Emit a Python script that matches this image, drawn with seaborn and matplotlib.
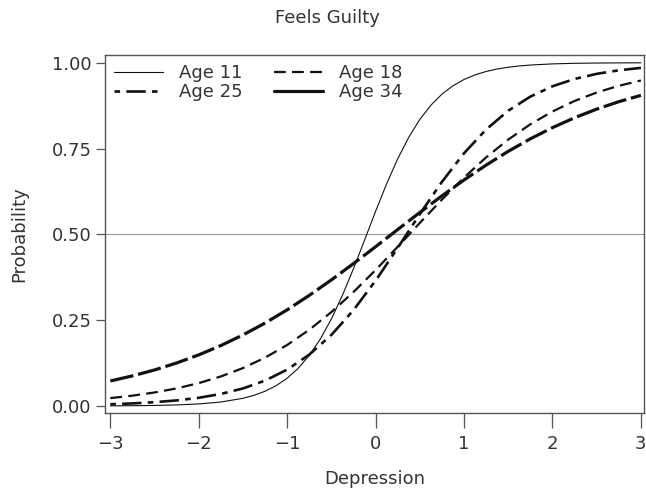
import numpy as np
import pandas as pd
import matplotlib
matplotlib.use("Agg")
import matplotlib.pyplot as plt
import seaborn as sns

# Depression score grid (standardised)
depression = [-3.0, -2.75, -2.5, -2.25, -2.0, -1.75, -1.5, -1.25, -1.0, -0.75,
              -0.5, -0.25, 0.0, 0.25, 0.5, 0.75, 1.0, 1.25, 1.5, 1.75,
              2.0, 2.25, 2.5, 2.75, 3.0]

# Finer grid for the steep age-11 curve
depression_11 = [-3.0, -2.75, -2.5, -2.25, -2.0, -1.75, -1.5, -1.375, -1.25, -1.125,
                 -1.0, -0.875, -0.75, -0.625, -0.5, -0.375, -0.25, -0.125, 0.0, 0.125,
                 0.25, 0.375, 0.5, 0.625, 0.75, 0.875, 1.0, 1.125, 1.25, 1.375,
                 1.5, 1.625, 1.75, 2.0, 2.25, 2.5, 2.75, 3.0]

# Predicted probability of endorsing "Feels Guilty" at each age
age_11 = [0.0004, 0.0008, 0.0015, 0.0030, 0.0059, 0.0115, 0.0223, 0.0310, 0.0429, 0.0591,
          0.0809, 0.1098, 0.1474, 0.1950, 0.2535, 0.3225, 0.4001, 0.4831, 0.5671, 0.6474,
          0.7201, 0.7829, 0.8348, 0.8762, 0.9084, 0.9329, 0.9512, 0.9647, 0.9745, 0.9817,
          0.9869, 0.9906, 0.9933, 0.9966, 0.9983, 0.9991, 0.9995, 0.9998]
age_18 = [0.0229, 0.0300, 0.0393, 0.0512, 0.0665, 0.0860, 0.1104, 0.1408, 0.1777, 0.2220,
          0.2735, 0.3320, 0.3960, 0.4640, 0.5332, 0.6013, 0.6655, 0.7243, 0.7761, 0.8207,
          0.8579, 0.8886, 0.9132, 0.9328, 0.9482]
age_25 = [0.0050, 0.0074, 0.0110, 0.0162, 0.0238, 0.0350, 0.0510, 0.0739, 0.1059, 0.1496,
          0.2070, 0.2793, 0.3652, 0.4606, 0.5590, 0.6529, 0.7363, 0.8057, 0.8602, 0.9013,
          0.9313, 0.9527, 0.9676, 0.9779, 0.9850]
age_34 = [0.0728, 0.0876, 0.1049, 0.1252, 0.1488, 0.1760, 0.2069, 0.2416, 0.2801, 0.3222,
          0.3673, 0.4148, 0.4640, 0.5140, 0.5637, 0.6121, 0.6584, 0.7018, 0.7419, 0.7783,
          0.8109, 0.8397, 0.8648, 0.8865, 0.9048]

x_ticks = [-3, -2, -1, 0, 1, 2, 3]
y_ticks = [0.0, 0.25, 0.5, 0.75, 1.0]

sns.set_theme(style="white")
plt.rcParams["font.family"] = ["DejaVu Sans"]
plt.rcParams["lines.scale_dashes"] = False
text_color = "#333333"
fs = 13

fig = plt.figure(figsize=(6.46, 4.92), dpi=100)
ax = fig.add_axes([105 / 646, 1 - 413 / 492, 539 / 646, 358 / 492])

# reference line at p = 0.5
ax.axhline(0.5, color="#9a9a9a", lw=0.8, zorder=1)

series = [
    ("Age 11", depression_11, age_11, dict(lw=0.8, linestyle="-")),
    ("Age 18", depression, age_18, dict(lw=1.6, linestyle=(0, (8.5, 4.5)))),
    ("Age 25", depression, age_25, dict(lw=1.9, linestyle=(18.5, (14, 4.5, 4.0, 4.5)))),
    ("Age 34", depression, age_34, dict(lw=2.3, linestyle=(0, (17, 3.5)))),
]
lines = {}
for name, xs, vals, style in series:
    df = pd.DataFrame({"Depression": xs, "Probability": vals})
    sns.lineplot(data=df, x="Depression", y="Probability", ax=ax, color="#111111",
                 errorbar=None, label=name, zorder=3, **style)
    lines[name] = ax.get_lines()[-1]

ax.set_xlim(-3.06, 3.035)
ax.set_ylim(-0.0205, 1.0225)
ax.set_xticks(x_ticks)
ax.set_yticks(y_ticks)
ax.set_yticklabels([f"{v:.2f}" for v in y_ticks])
ax.tick_params(axis="x", direction="out", length=11, width=0.9, color="#555555",
               labelsize=fs, labelcolor=text_color, pad=5, bottom=True)
ax.tick_params(axis="y", direction="out", length=6.5, width=0.9, color="#555555",
               labelsize=fs, labelcolor=text_color, pad=3, left=True)
for sp in ax.spines.values():
    sp.set_color("#555555")
    sp.set_linewidth(1.0)

ax.set_xlabel("Depression", fontsize=fs, color=text_color, labelpad=12)
ax.set_ylabel("Probability", fontsize=fs, color=text_color, labelpad=17)
fig.text(327 / 646, 1 - 18 / 492, "Feels Guilty", ha="center", va="center",
         fontsize=fs, color=text_color)

order = ["Age 11", "Age 25", "Age 18", "Age 34"]
leg = ax.legend(handles=[lines[n] for n in order], labels=order, ncol=2,
                loc="upper left", bbox_to_anchor=(0.0, 1.0), frameon=False,
                fontsize=fs, handlelength=2.7, handletextpad=0.9,
                columnspacing=1.75, labelspacing=0.05, borderaxespad=0.2,
                borderpad=0.3)
for t in leg.get_texts():
    t.set_color(text_color)
leg.get_lines()[3].set_linestyle("-")

fig.savefig("out.png", dpi=100)
